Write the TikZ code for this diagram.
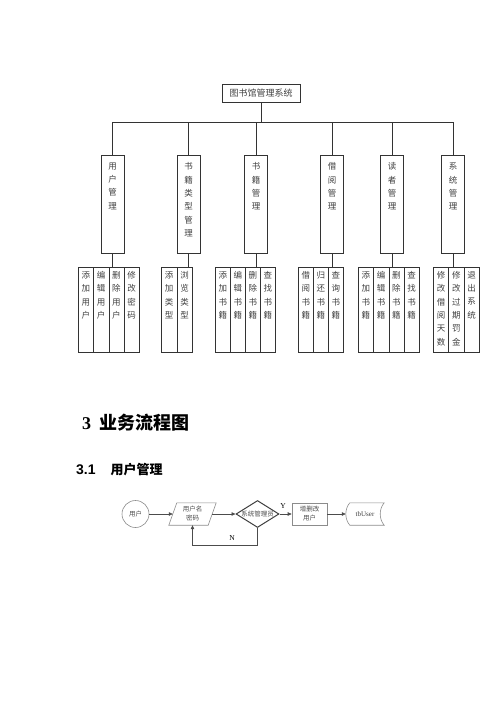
\documentclass[tikz,border=0pt]{standalone}
\usepackage{fontspec}
\setmainfont{Liberation Serif}
\newfontfamily\cjk{Noto Sans CJK SC}
\newfontfamily\sansf{Liberation Sans}
\usetikzlibrary{shapes.geometric,arrows.meta,calc}
\begin{document}
\begin{tikzpicture}[x=1pt,y=-1pt,
 line/.style={draw=black!80,line width=0.7pt},
 topbox/.style={draw=black!80,line width=0.7pt,minimum width=78pt,minimum height=18pt,inner sep=0pt,font=\cjk\fontsize{9}{10}\selectfont,text=black!75},
 midbox/.style={draw=black!80,line width=0.7pt,minimum width=23pt,minimum height=98pt,inner sep=0pt,anchor=north},
 leafbox/.style={draw=black!80,line width=0.7pt,minimum width=15.25pt,minimum height=85pt,inner sep=0pt,anchor=north west},
 vtext/.style={anchor=north,inner sep=0pt,align=center,font=\cjk\fontsize{8.5}{13.3}\selectfont,text=black!75},
 fcline/.style={draw=black!45,line width=0.6pt},
 fctext/.style={inner sep=0pt,align=center,font=\cjk\fontsize{6.5}{9}\selectfont,text=black!70},
 arr/.style={draw=black!70,line width=0.6pt,-{Triangle[length=4pt,width=3.5pt]}}]
\useasboundingbox (0,0) rectangle (500,707);
% ---------- organisation chart ----------
\node[topbox] (top) at (261,93) {图书馆管理系统};
\coordinate (bar) at (0,122);
\node[midbox] (m1) at (112.5,155) {};
\node[midbox] (m2) at (188.5,155) {};
\node[midbox] (m3) at (256,155) {};
\node[midbox] (m4) at (332,155) {};
\node[midbox] (m5) at (392,155) {};
\node[midbox] (m6) at (453,155) {};
\node[vtext] (m1t) at ([yshift=-7.5pt]m1.north) {用\\户\\管\\理};
\node[vtext] (m2t) at ([yshift=-7.5pt]m2.north) {书\\籍\\类\\型\\管\\理};
\node[vtext] (m3t) at ([yshift=-7.5pt]m3.north) {书\\籍\\管\\理};
\node[vtext] (m4t) at ([yshift=-7.5pt]m4.north) {借\\阅\\管\\理};
\node[vtext] (m5t) at ([yshift=-7.5pt]m5.north) {读\\者\\管\\理};
\node[vtext] (m6t) at ([yshift=-7.5pt]m6.north) {系\\统\\管\\理};
\draw[line] (top.south) -- (top.south |- bar);
\draw[line] (m1.north |- bar) -- (m6.north |- bar);
\foreach \k in {1,...,6} \draw[line] (m\k.north |- bar) -- (m\k.north);
% leaves
\foreach \t [count=\i] in {{添\\加\\用\\户},{编\\辑\\用\\户},{删\\除\\用\\户},{修\\改\\密\\码}}
 {\node[leafbox,minimum width=15.25pt] (a\i) at ({78+15.25*(\i-1)},267) {};
  \node[vtext] (at\i) at ([yshift=-4.3pt]a\i.north) {\t};}
\foreach \t [count=\i] in {{添\\加\\类\\型},{浏\\览\\类\\型}}
 {\node[leafbox,minimum width=15.5pt] (b\i) at ({161+15.5*(\i-1)},267) {};
  \node[vtext] (bt\i) at ([yshift=-4.3pt]b\i.north) {\t};}
\foreach \t [count=\i] in {{添\\加\\书\\籍},{编\\辑\\书\\籍},{删\\除\\书\\籍},{查\\找\\书\\籍}}
 {\node[leafbox,minimum width=15pt] (c\i) at ({215+15*(\i-1)},267) {};
  \node[vtext] (ct\i) at ([yshift=-4.3pt]c\i.north) {\t};}
\foreach \t [count=\i] in {{借\\阅\\书\\籍},{归\\还\\书\\籍},{查\\询\\书\\籍}}
 {\node[leafbox,minimum width=15pt] (e\i) at ({298+15*(\i-1)},267) {};
  \node[vtext] (et\i) at ([yshift=-4.3pt]e\i.north) {\t};}
\foreach \t [count=\i] in {{添\\加\\书\\籍},{编\\辑\\书\\籍},{删\\除\\书\\籍},{查\\找\\书\\籍}}
 {\node[leafbox,minimum width=15.25pt] (f\i) at ({358+15.25*(\i-1)},267) {};
  \node[vtext] (ft\i) at ([yshift=-4.3pt]f\i.north) {\t};}
\foreach \t [count=\i] in {{修\\改\\借\\阅\\天\\数},{修\\改\\过\\期\\罚\\金},{退\\出\\系\\统}}
 {\node[leafbox,minimum width=15.33pt] (g\i) at ({433+15.33*(\i-1)},267) {};
  \node[vtext] (gt\i) at ([yshift=-4.3pt]g\i.north) {\t};}
\foreach \k in {1,...,6} \draw[line] (m\k.south) -- (m\k.south |- a1.north);
% ---------- headings ----------
\node[anchor=west,inner sep=0pt] (h3) at (82,423)
 {\fontsize{18}{20}\selectfont\bfseries 3\hspace{8pt}\cjk\bfseries 业务流程图};
\node[anchor=west,inner sep=0pt] (h31) at (76,470)
 {\sansf\bfseries\fontsize{14}{16}\selectfont 3.1\hspace{15pt}\cjk\bfseries\fontsize{13}{15}\selectfont 用户管理};
% ---------- flow chart ----------
\node[circle,fcline,minimum size=27pt,inner sep=0pt,fctext] (c) at (135.5,514) {用户};
\node[fctext,minimum width=39pt,minimum height=22pt] (p) at (192.5,514) {用户名\\密码};
\draw[fcline] ([xshift=-4pt]p.south west) -- ([xshift=-4pt]p.south east)
  -- ([xshift=4pt]p.north east) -- ([xshift=4pt]p.north west) -- cycle;
\node[diamond,draw=black!75,line width=1pt,minimum width=43pt,minimum height=27pt,inner sep=0pt] (d) at (257.5,514) {};
\node[fctext,font=\cjk\fontsize{6.5}{8}\selectfont] (dt) at (d.center) {系统管理员};
\node[fctext,draw=black!45,line width=0.6pt,minimum width=35pt,minimum height=22pt] (r) at (309.5,514) {增删改\\用户};
\node[inner sep=0pt,minimum width=38pt,minimum height=22pt,font=\fontsize{7}{8}\selectfont,text=black!75] (tb) at (365,514) {tbUser};
\draw[fcline] ([xshift=4pt]tb.north west) -- (tb.north east)
  .. controls ([xshift=-5.3pt,yshift=-6pt]tb.north east) and ([xshift=-5.3pt,yshift=6pt]tb.south east) .. (tb.south east)
  -- ([xshift=4pt]tb.south west)
  .. controls ([xshift=-1.3pt,yshift=6pt]tb.south west) and ([xshift=-1.3pt,yshift=-6pt]tb.north west) .. ([xshift=4pt]tb.north west);
\draw[arr] (c.east) -- (p.west);
\draw[arr] (p.east) -- (d.west);
\draw[arr] (d.east) -- (r.west);
\draw[arr] (r.east) -- (tb.west);
\coordinate (nb) at (257.5,545);
\draw[arr] (d.south) -- (nb) -| (p.south);
\node[inner sep=0pt,font=\fontsize{7.5}{8}\selectfont] (ylab) at (283,506) {Y};
\node[inner sep=0pt,font=\fontsize{7.5}{8}\selectfont] (nlab) at (232,538) {N};
\end{tikzpicture}
\end{document}
